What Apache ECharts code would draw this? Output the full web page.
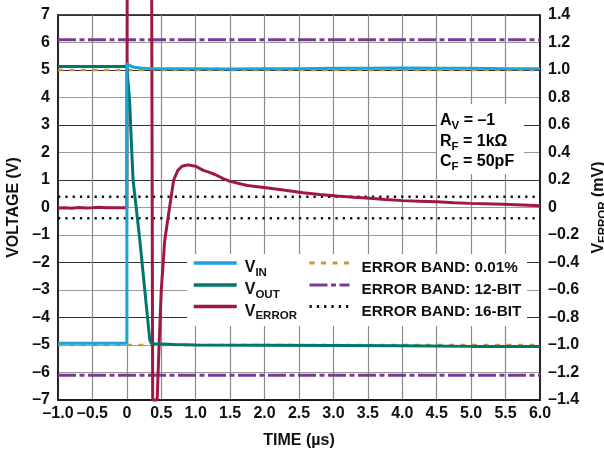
<!DOCTYPE html>
<html>
<head>
<meta charset="utf-8">
<script src="https://cdn.jsdelivr.net/npm/echarts@6/dist/echarts.min.js"></script>
<style>html,body{margin:0;padding:0;background:#fff}#c{width:604px;height:457px}</style>
</head>
<body>
<div id="c"></div>
<script>
// ---- data (time in µs, voltage in V, error in mV) ----
const vinTime = [-1.0, -0.5, 0.0, 0.0, 0.02, 0.05, 0.1, 0.2, 0.33, 0.6, 1.0, 1.5, 2.0, 2.5, 3.0, 3.5, 4.0, 4.5, 5.0, 5.5, 6.0];
const vinVals = [-4.94, -4.94, -4.94, 5.24, 5.20, 5.15, 5.10, 5.07, 5.05, 5.05, 5.05, 5.04, 5.05, 5.05, 5.06, 5.06, 5.07, 5.06, 5.06, 5.05, 5.05];

const voutTime = [-1.0, -0.5, 0.0, 0.017, 0.04, 0.065, 0.09, 0.14, 0.188, 0.26, 0.333, 0.355, 0.40, 0.5, 0.7, 1.0, 2.0, 3.0, 4.0, 5.0, 6.0];
const voutVals = [5.13, 5.13, 5.13, 5.06, 3.85, 2.4, 1.0, -0.1, -1.18, -3.0, -4.82, -4.93, -4.95, -4.96, -4.98, -5.0, -5.01, -5.02, -5.03, -5.05, -5.05];

const verrTime = [-1.0, -0.9, -0.8, -0.7, -0.6, -0.5, -0.4, -0.3, -0.2, -0.1, 0.0, 0.005, 0.36, 0.375, 0.44, 0.468, 0.50, 0.55, 0.62, 0.68, 0.74, 0.80, 0.89, 1.0, 1.11, 1.2, 1.28, 1.4, 1.5, 1.75, 2.08, 2.3, 2.56, 2.8, 3.05, 3.3, 3.53, 3.75, 4.01, 4.25, 4.5, 4.75, 4.98, 5.2, 5.46, 5.75, 6.0];
const verrVals = [-0.004, -0.002, -0.005, 0.0, -0.003, -0.001, 0.002, -0.002, -0.001, -0.002, -0.002, 1.7, 1.7, -1.4, -1.4, -1.0, -0.6, -0.24, 0.0, 0.2, 0.27, 0.30, 0.31, 0.30, 0.27, 0.255, 0.24, 0.21, 0.19, 0.16, 0.14, 0.125, 0.108, 0.095, 0.084, 0.075, 0.067, 0.058, 0.05, 0.046, 0.042, 0.035, 0.03, 0.027, 0.023, 0.018, 0.013];

// error bands (mV, symmetric)
const band001 = 1.0;
const band12bit = 1.22;
const band16bit = 0.078;
const timeSpan = [-1.0, 6.0];

const xTicks = {min: -1.0, max: 6.0, step: 0.5};
const yLeftTicks = {min: -7, max: 7, step: 1};
const yRightTicks = {min: -1.4, max: 1.4, step: 0.2};

const signalNames = ['VIN', 'VOUT', 'VERROR'];
const bandNames = ['ERROR BAND: 0.01%', 'ERROR BAND: 12-BIT', 'ERROR BAND: 16-BIT'];

// ---- helpers ----
const zip = (a, b) => a.map((v, i) => [v, b[i]]);
const dash = s => s.replace('-', '\u2013');
const FONT = 'Liberation Sans, Arial, sans-serif';
const FS = 16;
const C = {vin: '#1aa3dc', vout: '#00776e', verr: '#a0183f', gold: '#c39a3b', purple: '#7a3c92', black: '#111'};

function bandSeries(name, v, color, type, width) {
  return [v, -v].map(val => ({
    name: name, type: 'line', yAxisIndex: 1, symbol: 'none', silent: true, z: 1,
    data: [[timeSpan[0], val], [timeSpan[1], val]],
    lineStyle: {color: color, width: width, type: type}, itemStyle: {color: color}
  }));
}

const hLineColors = ['#333', '#9a9a9a', '#9a9a9a', '#333', '#9a9a9a', '#333', '#9a9a9a', '#9a9a9a', '#333', '#9a9a9a', '#333', '#9a9a9a', '#333', '#9a9a9a', '#333'];

const subName = {
  'VIN': '{v|V}{s|IN}',
  'VOUT': '{v|V}{s|OUT}',
  'VERROR': '{v|V}{s|ERROR}'
};
const rich = {
  v: {fontSize: FS, fontWeight: 'bold', fontFamily: FONT, color: '#111'},
  s: {fontSize: 11.5, fontWeight: 'bold', fontFamily: FONT, color: '#111', padding: [9, 0, 0, 0]},
  t: {fontSize: 15.3, fontWeight: 'bold', fontFamily: FONT, color: '#111'}
};
const hiddenSymbol = {color: 'transparent', borderWidth: 0, opacity: 0};
const labelStyle = {color: '#111', fontSize: FS, fontWeight: 'bold'};

// legend rows (line centre y)
const rowY = [265.7, 287.7, 309.3];
const legends = [];
signalNames.forEach((n, i) => legends.push({
  data: [n], left: 192, top: rowY[i] - 14, orient: 'vertical',
  itemWidth: 43, itemHeight: 28, padding: 0, itemStyle: hiddenSymbol, lineStyle: {width: 3.5},
  formatter: nm => subName[nm], textStyle: {rich: rich, padding: [10, 0, 0, 3]}
}));
bandNames.forEach((n, i) => legends.push({
  data: [n], left: 308, top: rowY[i] - 14, orient: 'vertical',
  itemWidth: 40, itemHeight: 28, padding: 0, itemStyle: hiddenSymbol, lineStyle: {width: 3},
  formatter: nm => '{t|' + nm + '}', textStyle: {rich: rich, padding: [10, 0, 0, 7]}
}));

const chart = echarts.init(document.getElementById('c'), null, {renderer: 'canvas'});
chart.setOption({
  animation: false,
  backgroundColor: '#fff',
  textStyle: {fontFamily: FONT},
  grid: {left: 58, right: 64, top: 15, bottom: 57, containLabel: false, outerBoundsMode: 'none',
    show: true, borderColor: '#111', borderWidth: 1.5, backgroundColor: 'transparent'},
  xAxis: {
    type: 'value', min: xTicks.min, max: xTicks.max, interval: xTicks.step,
    axisLine: {show: true, onZero: false, lineStyle: {color: '#111', width: 1.5}},
    axisTick: {show: false},
    splitLine: {show: true, lineStyle: {color: '#8a8a8a', width: 1.2}},
    axisLabel: Object.assign({margin: 6, hideOverlap: false,
      formatter: v => Math.abs(v) < 1e-9 ? '0' : dash(v.toFixed(1))}, labelStyle),
    name: 'TIME (µs)', nameLocation: 'middle', nameGap: 33,
    nameTextStyle: labelStyle
  },
  yAxis: [{
    type: 'value', min: yLeftTicks.min, max: yLeftTicks.max, interval: yLeftTicks.step,
    axisLine: {show: true, onZero: false, lineStyle: {color: '#111', width: 1.5}},
    axisTick: {show: false},
    splitLine: {show: true, lineStyle: {color: hLineColors, width: 1.2}},
    axisLabel: Object.assign({margin: 8, formatter: v => dash(String(Math.round(v)))}, labelStyle),
    name: 'VOLTAGE (V)', nameLocation: 'middle', nameGap: 35,
    nameTextStyle: labelStyle
  }, {
    type: 'value', position: 'right', min: yRightTicks.min, max: yRightTicks.max, interval: yRightTicks.step,
    axisLine: {show: true, onZero: false, lineStyle: {color: '#111', width: 1.5}},
    axisTick: {show: false},
    splitLine: {show: false},
    axisLabel: Object.assign({margin: 8,
      formatter: v => Math.abs(v) < 1e-9 ? '0' : dash(v.toFixed(1))}, labelStyle),
    name: '{v|V}{s|ERROR}{v| (mV)}', nameLocation: 'middle', nameGap: 48, nameRotate: 90,
    nameTextStyle: {rich: rich}
  }],
  legend: legends,
  graphic: [
    {type: 'rect', z: 3, shape: {x: 187, y: 254, width: 340, height: 72}, style: {fill: '#fff'}},
    {type: 'rect', z: 3, shape: {x: 437, y: 104, width: 87, height: 70}, style: {fill: '#fff'}},
    {type: 'text', z: 5, x: 440, y: 121, style: {text: '{v|A}{s|V}{v| = \u20131}', rich: rich, verticalAlign: 'middle'}},
    {type: 'text', z: 5, x: 440, y: 142, style: {text: '{v|R}{s|F}{v| = 1k\u03A9}', rich: rich, verticalAlign: 'middle'}},
    {type: 'text', z: 5, x: 440, y: 162, style: {text: '{v|C}{s|F}{v| = 50pF}', rich: rich, verticalAlign: 'middle'}}
  ],
  series: [
    ...bandSeries(bandNames[0], band001, C.gold, [5, 6.5], 2.5),
    ...bandSeries(bandNames[1], band12bit, C.purple, [18, 3.5, 5, 3.5], 3),
    ...bandSeries(bandNames[2], band16bit, C.black, [2.3, 5], 2.5),
    {name: signalNames[2], type: 'line', yAxisIndex: 1, symbol: 'none', clip: false, z: 2,
      data: zip(verrTime, verrVals), lineStyle: {color: C.verr, width: 3}, itemStyle: {color: C.verr}},
    {name: signalNames[1], type: 'line', yAxisIndex: 0, symbol: 'none', z: 2,
      data: zip(voutTime, voutVals), lineStyle: {color: C.vout, width: 3}, itemStyle: {color: C.vout}},
    {name: signalNames[0], type: 'line', yAxisIndex: 0, symbol: 'none', z: 2,
      data: zip(vinTime, vinVals), lineStyle: {color: C.vin, width: 3}, itemStyle: {color: C.vin}}
  ]
});
</script>
</body>
</html>
